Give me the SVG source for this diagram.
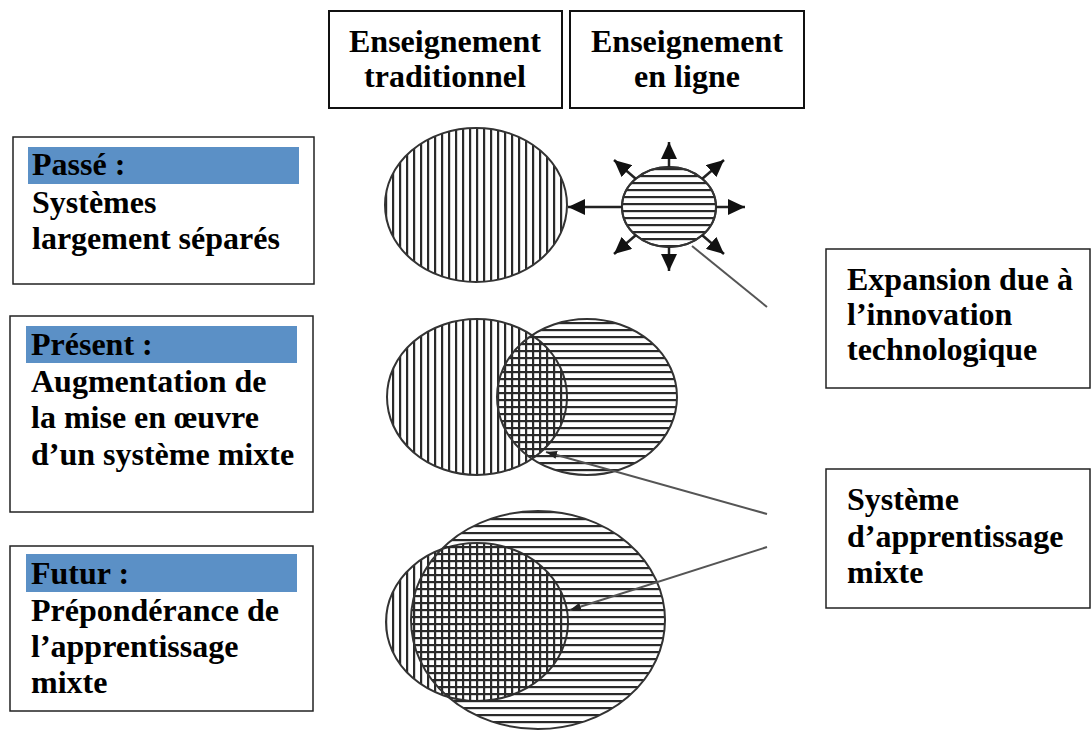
<svg xmlns="http://www.w3.org/2000/svg" width="1092" height="730" viewBox="0 0 1092 730">
<style>
  .box { fill: #ffffff; stroke: #222222; stroke-width: 1.5; }
  .hbox { fill: #ffffff; stroke: #111111; stroke-width: 2; }
  .band { fill: #5b90c6; }
  .t { font-family: "Liberation Serif", "Times New Roman", serif; font-weight: bold; font-size: 32px; fill: #000000; }
  .tc { text-anchor: middle; }
  .vfill { fill: url(#vstripes); stroke: #333333; stroke-width: 2; }
  .hfill { fill: url(#hstripes); stroke: #333333; stroke-width: 2; }
  .conn { stroke: #555555; stroke-width: 2; fill: none; }
  .burst { stroke: #222222; stroke-width: 2.5; fill: none; marker-end: url(#bigHead); }
</style>
<defs>
  <pattern id="vstripes" patternUnits="userSpaceOnUse" width="7" height="7">
    <rect x="0" y="0" width="7" height="7" fill="#ffffff"/>
    <rect x="0" y="0" width="2.2" height="7" fill="#2a2a2a"/>
  </pattern>
  <pattern id="hstripes" patternUnits="userSpaceOnUse" width="7" height="7">
    <rect x="0" y="0" width="7" height="2.2" fill="#2a2a2a"/>
  </pattern>
  <marker id="bigHead" markerUnits="userSpaceOnUse" markerWidth="18" markerHeight="16" refX="17" refY="8" orient="auto">
    <path d="M0,0 L17,8 L0,16 Z" fill="#111111"/>
  </marker>
  <marker id="smallHead" markerUnits="userSpaceOnUse" markerWidth="12" markerHeight="8" refX="11" refY="4" orient="auto">
    <path d="M0,0 L11,4 L0,8 Z" fill="#222222"/>
  </marker>
</defs>
<rect x="0" y="0" width="1092" height="730" fill="#ffffff"/>

<g id="header-traditionnel">
  <rect class="hbox" x="329" y="11" width="233" height="97"/>
  <text class="t tc" x="445" y="52">Enseignement</text>
  <text class="t tc" x="445" y="87">traditionnel</text>
</g>
<g id="header-en-ligne">
  <rect class="hbox" x="570" y="11" width="234" height="97"/>
  <text class="t tc" x="687" y="52">Enseignement</text>
  <text class="t tc" x="687" y="87">en ligne</text>
</g>

<g id="passe">
  <rect class="box" x="13" y="137" width="301" height="147"/>
  <rect class="band" x="28" y="147" width="271" height="37"/>
  <text class="t" x="32" y="175">Passé :</text>
  <text class="t" x="32" y="213">Systèmes</text>
  <text class="t" x="32" y="249">largement séparés</text>
</g>
<g id="present">
  <rect class="box" x="10" y="316" width="303" height="196"/>
  <rect class="band" x="26" y="326" width="271" height="37"/>
  <text class="t" x="31" y="355">Présent :</text>
  <text class="t" x="31" y="392">Augmentation de</text>
  <text class="t" x="31" y="428">la mise en œuvre</text>
  <text class="t" x="31" y="465">d’un système mixte</text>
</g>
<g id="futur">
  <rect class="box" x="10" y="546" width="303" height="165"/>
  <rect class="band" x="26" y="554" width="271" height="38"/>
  <text class="t" x="31" y="584">Futur :</text>
  <text class="t" x="31" y="621">Prépondérance de</text>
  <text class="t" x="31" y="657">l’apprentissage</text>
  <text class="t" x="31" y="693">mixte</text>
</g>

<g id="expansion">
  <rect class="box" x="826" y="249" width="264" height="139"/>
  <text class="t" x="847" y="290">Expansion due à</text>
  <text class="t" x="847" y="325">l’innovation</text>
  <text class="t" x="847" y="360">technologique</text>
</g>
<g id="systeme-mixte">
  <rect class="box" x="826" y="469" width="264" height="139"/>
  <text class="t" x="847" y="510">Système</text>
  <text class="t" x="847" y="547">d’apprentissage</text>
  <text class="t" x="847" y="583">mixte</text>
</g>

<g id="passe-shapes">
  <ellipse class="vfill" cx="476" cy="205" rx="91" ry="77"/>
  <ellipse class="hfill" cx="669" cy="207" rx="47" ry="40" style="fill: #ffffff"/>
  <ellipse class="hfill" cx="669" cy="207" rx="47" ry="40"/>
</g>
<g id="present-shapes">
  <ellipse class="vfill" cx="477" cy="397" rx="90" ry="78"/>
  <ellipse class="hfill" cx="587" cy="397" rx="90" ry="78"/>
</g>
<g id="futur-shapes">
  <ellipse class="vfill" cx="477" cy="622" rx="91" ry="79"/>
  <ellipse class="hfill" cx="538" cy="620" rx="127" ry="109"/>
</g>

<g id="connectors">
  <line class="burst" x1="622" y1="207" x2="568" y2="207"/>
  <line class="burst" x1="669" y1="167" x2="669" y2="142"/>
  <line class="burst" x1="669" y1="247" x2="669" y2="271"/>
  <line class="burst" x1="716" y1="207" x2="745" y2="207"/>
  <line class="burst" x1="702" y1="179" x2="724" y2="160"/>
  <line class="burst" x1="636" y1="179" x2="614" y2="160"/>
  <line class="burst" x1="702" y1="235" x2="724" y2="254"/>
  <line class="burst" x1="636" y1="235" x2="614" y2="254"/>
  <line class="conn" x1="692" y1="246" x2="767" y2="307"/>
  <line class="conn" x1="767" y1="514" x2="546" y2="452" marker-end="url(#smallHead)"/>
  <line class="conn" x1="767" y1="547" x2="570" y2="610" marker-end="url(#smallHead)"/>
</g>
</svg>
